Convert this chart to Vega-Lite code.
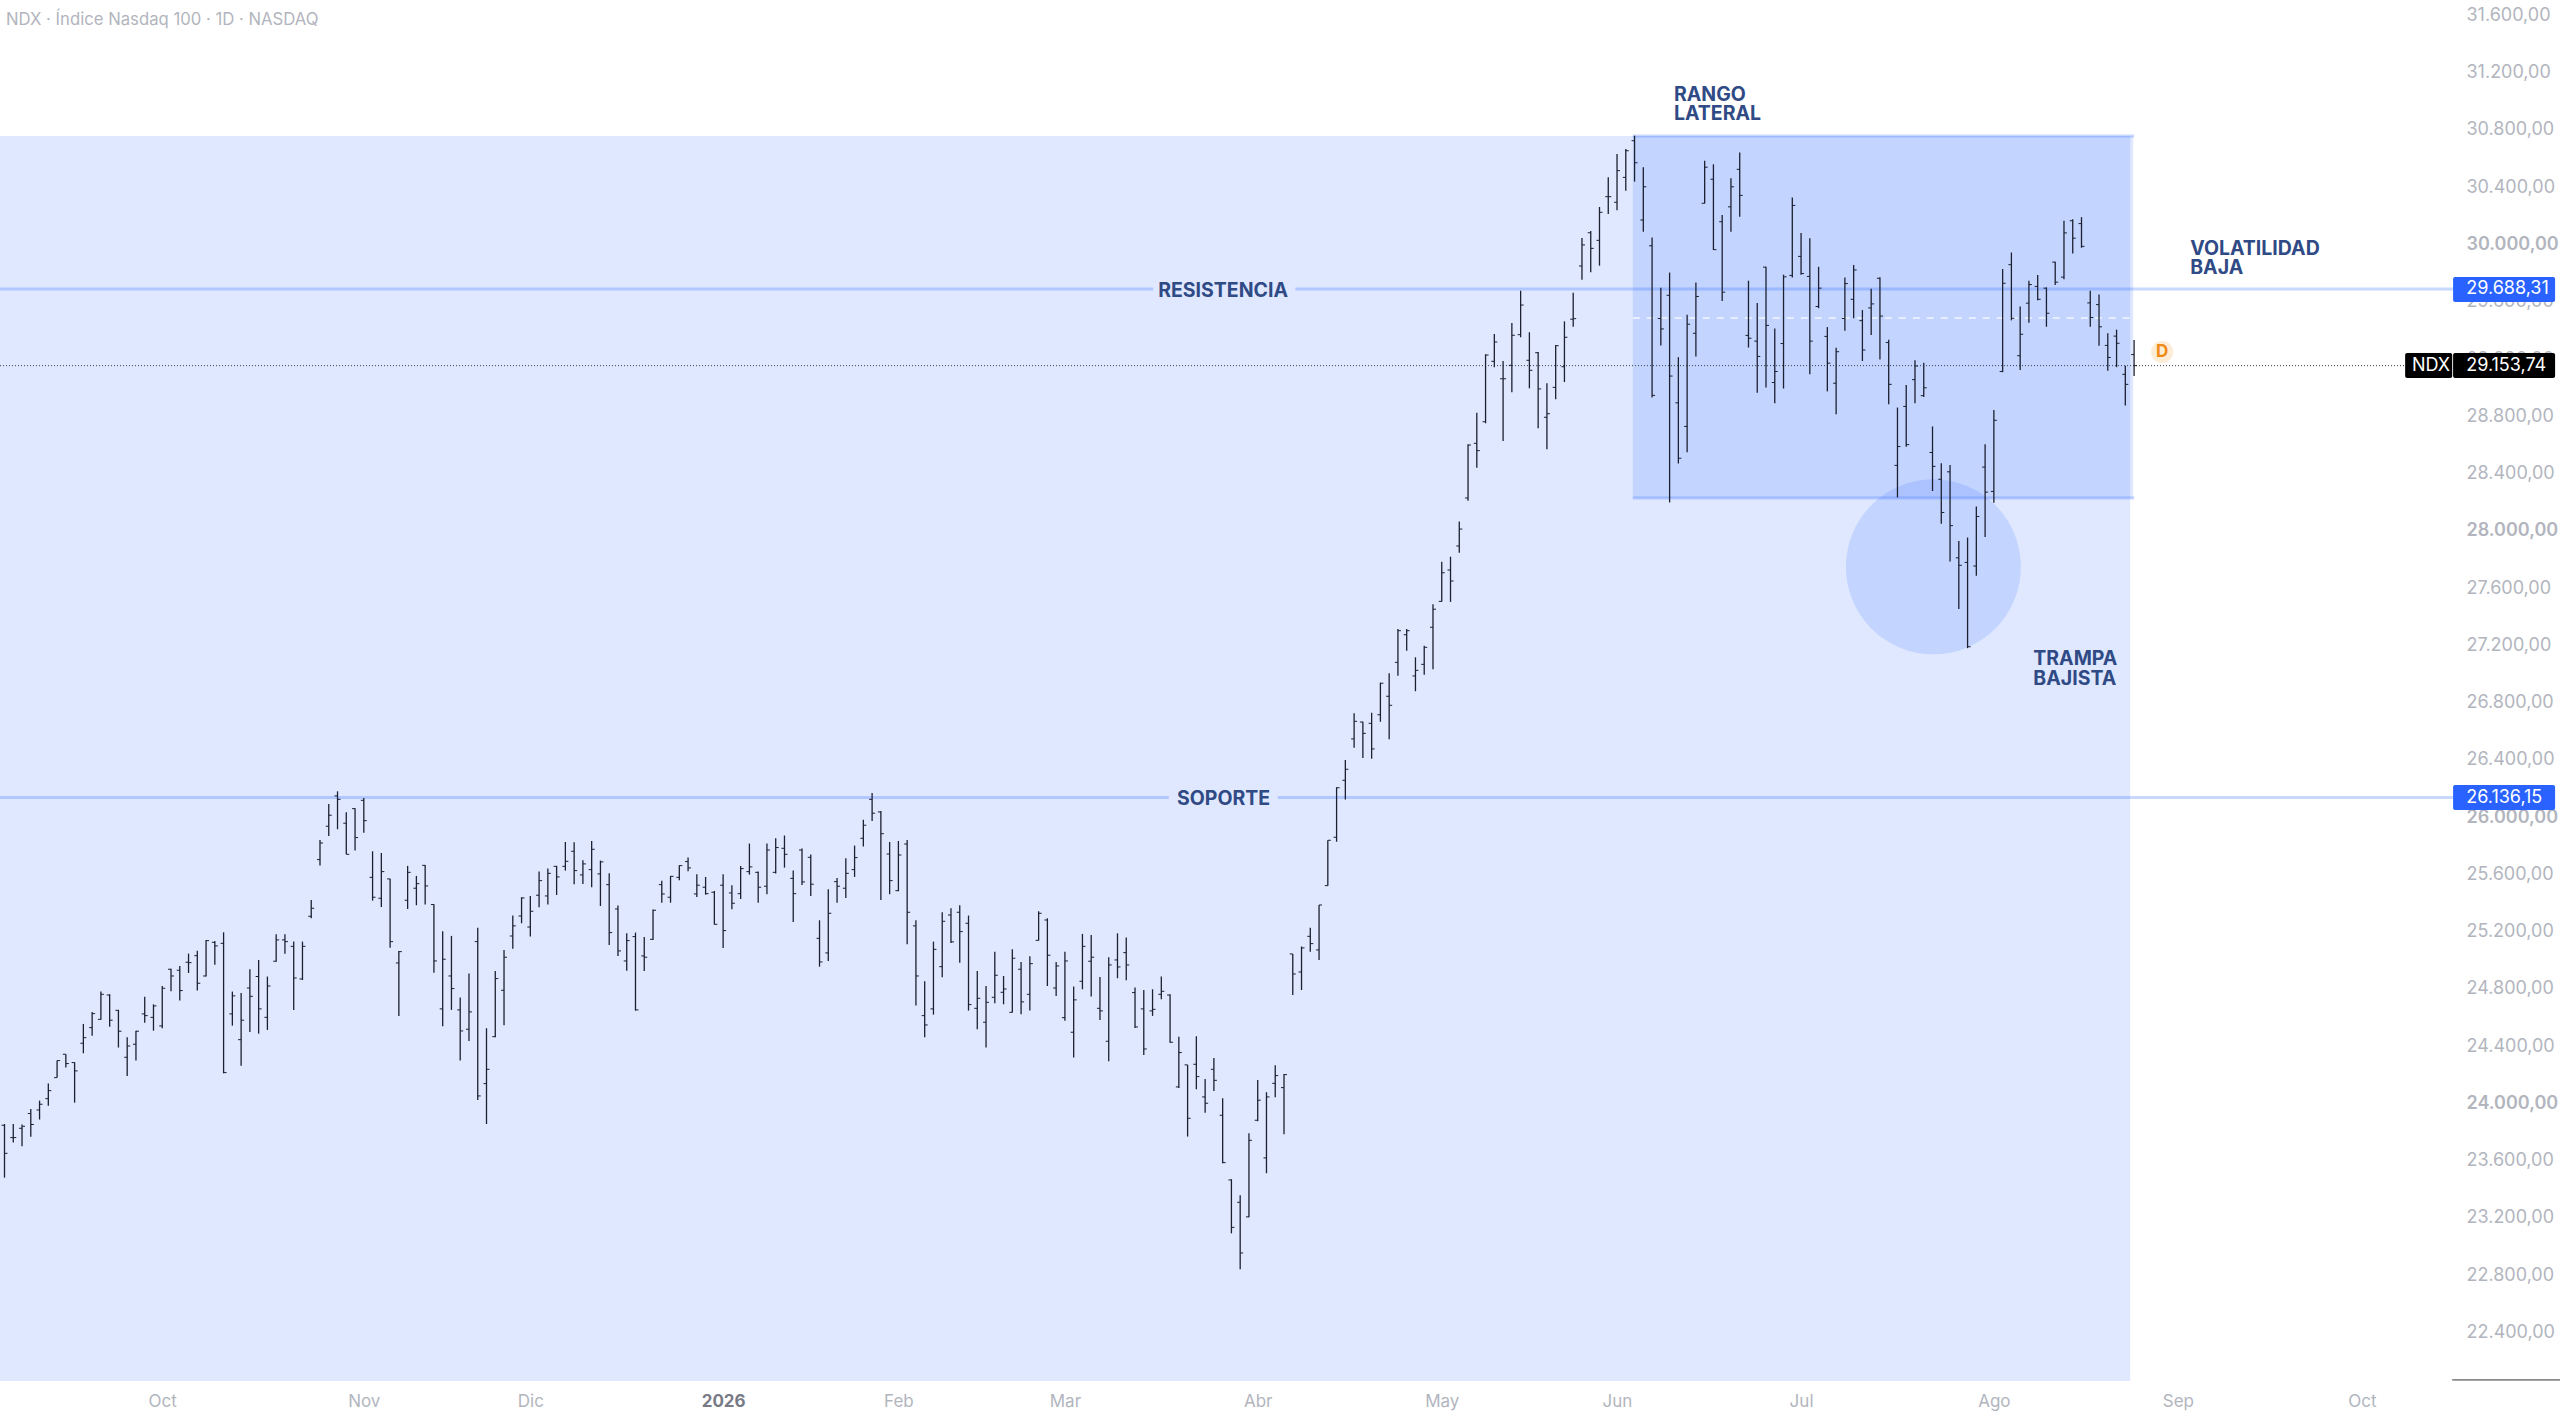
{
"$schema":"https://vega.github.io/schema/vega-lite/v6.json",
"width":2560,"height":1417,"autosize":{"type":"none"},"padding":0,"background":"#ffffff",
"config":{"view":{"stroke":null},"font":"Inter"},
"datasets":{
"bars":[
{"i":0,"h":23856,"l":23481,"o":23847,"c":23651},{"i":1,"h":23856,"l":23726,"o":23761,"c":23761},{"i":2,"h":23852,"l":23700,"o":23826,"c":23840},{"i":3,"h":23961,"l":23766,"o":23929,"c":23852},{"i":4,"h":24019,"l":23887,"o":23954,"c":23994},{"i":5,"h":24138,"l":23984,"o":24033,"c":24089},{"i":6,"h":24299,"l":24180,"o":24180,"c":24299},{"i":7,"h":24343,"l":24250,"o":24343,"c":24278},{"i":8,"h":24287,"l":24005,"o":24285,"c":24227},{"i":9,"h":24555,"l":24350,"o":24420,"c":24459},
{"i":10,"h":24639,"l":24473,"o":24529,"c":24627},{"i":11,"h":24781,"l":24585,"o":24587,"c":24762},{"i":12,"h":24762,"l":24536,"o":24757,"c":24581},{"i":13,"h":24653,"l":24390,"o":24650,"c":24504},{"i":14,"h":24462,"l":24192,"o":24322,"c":24401},{"i":15,"h":24508,"l":24299,"o":24413,"c":24504},{"i":16,"h":24744,"l":24564,"o":24625,"c":24613},{"i":17,"h":24692,"l":24508,"o":24601,"c":24681},{"i":18,"h":24820,"l":24525,"o":24541,"c":24804},{"i":19,"h":24941,"l":24783,"o":24937,"c":24890},
{"i":20,"h":24960,"l":24718,"o":24930,"c":24788},{"i":21,"h":25046,"l":24911,"o":24986,"c":24983},{"i":22,"h":25067,"l":24788,"o":25032,"c":24839},{"i":23,"h":25142,"l":24886,"o":24890,"c":25137},{"i":24,"h":25135,"l":24969,"o":25125,"c":25100},{"i":25,"h":25195,"l":24210,"o":25118,"c":24215},{"i":26,"h":24781,"l":24543,"o":24625,"c":24751},{"i":27,"h":24771,"l":24262,"o":24445,"c":24581},{"i":28,"h":24937,"l":24499,"o":24806,"c":24748},{"i":29,"h":25002,"l":24487,"o":24886,"c":24660},
{"i":30,"h":24886,"l":24513,"o":24601,"c":24820},{"i":31,"h":25181,"l":24990,"o":24993,"c":25142},{"i":32,"h":25181,"l":25046,"o":25142,"c":25130},{"i":33,"h":25130,"l":24653,"o":25097,"c":24876},{"i":34,"h":25130,"l":24862,"o":24869,"c":25097},{"i":35,"h":25421,"l":25293,"o":25307,"c":25363},{"i":36,"h":25840,"l":25661,"o":25703,"c":25819},{"i":37,"h":26092,"l":25868,"o":25936,"c":26013},{"i":38,"h":26180,"l":25915,"o":26148,"c":26124},{"i":39,"h":26034,"l":25740,"o":25957,"c":25740},
{"i":40,"h":26061,"l":25766,"o":26059,"c":25857},{"i":41,"h":26134,"l":25891,"o":26117,"c":25975},{"i":42,"h":25761,"l":25416,"o":25579,"c":25440},{"i":43,"h":25749,"l":25372,"o":25433,"c":25619},{"i":44,"h":25570,"l":25088,"o":25568,"c":25130},{"i":45,"h":25065,"l":24611,"o":24981,"c":25060},{"i":46,"h":25659,"l":25358,"o":25419,"c":25614},{"i":47,"h":25589,"l":25384,"o":25503,"c":25535},{"i":48,"h":25666,"l":25389,"o":25663,"c":25519},{"i":49,"h":25391,"l":24913,"o":25389,"c":24995},
{"i":50,"h":25202,"l":24539,"o":24660,"c":25007},{"i":51,"h":25170,"l":24653,"o":24890,"c":24802},{"i":52,"h":24739,"l":24299,"o":24653,"c":24506},{"i":53,"h":24907,"l":24436,"o":24518,"c":24639},{"i":54,"h":25226,"l":24024,"o":25130,"c":24052},{"i":55,"h":24525,"l":23856,"o":24138,"c":24238},{"i":56,"h":24925,"l":24462,"o":24466,"c":24872},{"i":57,"h":25072,"l":24546,"o":24790,"c":25021},{"i":58,"h":25312,"l":25081,"o":25170,"c":25240},{"i":59,"h":25440,"l":25258,"o":25309,"c":25435},
{"i":60,"h":25449,"l":25165,"o":25232,"c":25342},{"i":61,"h":25619,"l":25370,"o":25454,"c":25556},{"i":62,"h":25640,"l":25389,"o":25449,"c":25607},{"i":63,"h":25659,"l":25456,"o":25656,"c":25582},{"i":64,"h":25826,"l":25626,"o":25656,"c":25691},{"i":65,"h":25824,"l":25531,"o":25761,"c":25626},{"i":66,"h":25698,"l":25533,"o":25596,"c":25673},{"i":67,"h":25833,"l":25510,"o":25633,"c":25775},{"i":68,"h":25696,"l":25379,"o":25603,"c":25687},{"i":69,"h":25607,"l":25107,"o":25528,"c":25193},
{"i":70,"h":25382,"l":25030,"o":25358,"c":25065},{"i":71,"h":25188,"l":24927,"o":24995,"c":25137},{"i":72,"h":25193,"l":24648,"o":25165,"c":24653},{"i":73,"h":25163,"l":24925,"o":25030,"c":25021},{"i":74,"h":25354,"l":25142,"o":25146,"c":25349},{"i":75,"h":25556,"l":25402,"o":25528,"c":25463},{"i":76,"h":25589,"l":25402,"o":25440,"c":25586},{"i":77,"h":25663,"l":25559,"o":25579,"c":25661},{"i":78,"h":25717,"l":25621,"o":25689,"c":25645},{"i":79,"h":25600,"l":25442,"o":25463,"c":25524},
{"i":80,"h":25582,"l":25458,"o":25510,"c":25465},{"i":81,"h":25484,"l":25249,"o":25475,"c":25251},{"i":82,"h":25600,"l":25086,"o":25524,"c":25207},{"i":83,"h":25524,"l":25356,"o":25470,"c":25398},{"i":84,"h":25659,"l":25428,"o":25465,"c":25640},{"i":85,"h":25815,"l":25598,"o":25619,"c":25652},{"i":86,"h":25619,"l":25402,"o":25614,"c":25510},{"i":87,"h":25815,"l":25461,"o":25517,"c":25770},{"i":88,"h":25852,"l":25605,"o":25614,"c":25787},{"i":89,"h":25871,"l":25647,"o":25782,"c":25740},
{"i":90,"h":25626,"l":25267,"o":25572,"c":25465},{"i":91,"h":25780,"l":25526,"o":25770,"c":25547},{"i":92,"h":25738,"l":25449,"o":25719,"c":25531},{"i":93,"h":25279,"l":24955,"o":25153,"c":24988},{"i":94,"h":25496,"l":24995,"o":25051,"c":25328},{"i":95,"h":25575,"l":25402,"o":25549,"c":25517},{"i":96,"h":25712,"l":25435,"o":25503,"c":25607},{"i":97,"h":25801,"l":25582,"o":25633,"c":25717},{"i":98,"h":25982,"l":25794,"o":25852,"c":25943},{"i":99,"h":26169,"l":25973,"o":26124,"c":26027},
{"i":100,"h":26043,"l":25421,"o":26036,"c":25884},{"i":101,"h":25826,"l":25461,"o":25742,"c":25556},{"i":102,"h":25833,"l":25482,"o":25486,"c":25735},{"i":103,"h":25840,"l":25111,"o":25812,"c":25335},{"i":104,"h":25279,"l":24683,"o":25240,"c":24890},{"i":105,"h":24853,"l":24462,"o":24613,"c":24548},{"i":106,"h":25130,"l":24620,"o":24660,"c":25076},{"i":107,"h":25335,"l":24881,"o":24955,"c":25272},{"i":108,"h":25363,"l":25121,"o":25316,"c":25128},{"i":109,"h":25384,"l":24983,"o":25335,"c":25200},
{"i":110,"h":25312,"l":24648,"o":25258,"c":24690},{"i":111,"h":24925,"l":24518,"o":24664,"c":24734},{"i":112,"h":24820,"l":24390,"o":24567,"c":24706},{"i":113,"h":25060,"l":24699,"o":24741,"c":24895},{"i":114,"h":24890,"l":24692,"o":24776,"c":24799},{"i":115,"h":25076,"l":24634,"o":24636,"c":25014},{"i":116,"h":24988,"l":24622,"o":24937,"c":24709},{"i":117,"h":25028,"l":24648,"o":24762,"c":24976},{"i":118,"h":25342,"l":25137,"o":25139,"c":25328},{"i":119,"h":25293,"l":24820,"o":25281,"c":25035},
{"i":120,"h":24988,"l":24750,"o":24806,"c":24960},{"i":121,"h":25060,"l":24578,"o":24599,"c":24995},{"i":122,"h":24816,"l":24320,"o":24497,"c":24723},{"i":123,"h":25184,"l":24797,"o":24853,"c":25097},{"i":124,"h":25177,"l":24746,"o":24993,"c":25021},{"i":125,"h":24883,"l":24583,"o":24664,"c":24646},{"i":126,"h":25021,"l":24294,"o":24434,"c":24967},{"i":127,"h":25188,"l":24874,"o":25002,"c":24953},{"i":128,"h":25158,"l":24860,"o":25053,"c":24967},{"i":129,"h":24809,"l":24527,"o":24774,"c":24534},
{"i":130,"h":24792,"l":24338,"o":24660,"c":24380},{"i":131,"h":24797,"l":24611,"o":24646,"c":24657},{"i":132,"h":24886,"l":24727,"o":24762,"c":24783},{"i":133,"h":24762,"l":24424,"o":24757,"c":24427},{"i":134,"h":24466,"l":24108,"o":24115,"c":24355},{"i":135,"h":24269,"l":23768,"o":24269,"c":23896},{"i":136,"h":24469,"l":24098,"o":24273,"c":24187},{"i":137,"h":24171,"l":23935,"o":24045,"c":24001},{"i":138,"h":24317,"l":24087,"o":24238,"c":24161},{"i":139,"h":24036,"l":23582,"o":23917,"c":23586},
{"i":140,"h":23470,"l":23092,"o":23465,"c":23134},{"i":141,"h":23358,"l":22841,"o":23309,"c":22955},{"i":142,"h":23791,"l":23204,"o":23207,"c":23742},{"i":143,"h":24164,"l":23875,"o":23882,"c":24022},{"i":144,"h":24078,"l":23512,"o":23619,"c":24045},{"i":145,"h":24266,"l":24043,"o":24140,"c":24194},{"i":146,"h":24206,"l":23784,"o":24110,"c":24201},{"i":147,"h":25044,"l":24757,"o":25044,"c":24904},{"i":148,"h":25096,"l":24792,"o":24918,"c":25086},{"i":149,"h":25227,"l":25060,"o":25167,"c":25116},
{"i":150,"h":25386,"l":25002,"o":25072,"c":25386},{"i":151,"h":25838,"l":25521,"o":25521,"c":25838},{"i":152,"h":26208,"l":25828,"o":25859,"c":26205},{"i":153,"h":26399,"l":26122,"o":26257,"c":26334},{"i":154,"h":26725,"l":26485,"o":26546,"c":26669},{"i":155,"h":26666,"l":26413,"o":26664,"c":26585},{"i":156,"h":26729,"l":26408,"o":26655,"c":26476},{"i":157,"h":26939,"l":26666,"o":26715,"c":26935},{"i":158,"h":27005,"l":26543,"o":26844,"c":26781},{"i":159,"h":27314,"l":26988,"o":27081,"c":27302},
{"i":160,"h":27314,"l":27162,"o":27274,"c":27302},{"i":161,"h":27116,"l":26879,"o":26986,"c":27025},{"i":162,"h":27197,"l":26995,"o":27067,"c":27186},{"i":163,"h":27486,"l":27032,"o":27326,"c":27452},{"i":164,"h":27784,"l":27505,"o":27507,"c":27707},{"i":165,"h":27819,"l":27503,"o":27726,"c":27649},{"i":166,"h":28064,"l":27847,"o":27894,"c":28012},{"i":167,"h":28604,"l":28210,"o":28229,"c":28599},{"i":168,"h":28825,"l":28441,"o":28611,"c":28560},{"i":169,"h":29233,"l":28751,"o":28762,"c":29228},
{"i":170,"h":29375,"l":29142,"o":29184,"c":29319},{"i":171,"h":29186,"l":28627,"o":29062,"c":29062},{"i":172,"h":29452,"l":28968,"o":29156,"c":29366},{"i":173,"h":29677,"l":29352,"o":29370,"c":29577},{"i":174,"h":29387,"l":28995,"o":29191,"c":29121},{"i":175,"h":29249,"l":28716,"o":29244,"c":28991},{"i":176,"h":29030,"l":28569,"o":28793,"c":28818},{"i":177,"h":29298,"l":28919,"o":29002,"c":29293},{"i":178,"h":29463,"l":29039,"o":29146,"c":29352},{"i":179,"h":29663,"l":29426,"o":29478,"c":29482},
{"i":180,"h":30045,"l":29754,"o":29850,"c":29997},{"i":181,"h":30094,"l":29806,"o":30082,"c":29973},{"i":182,"h":30262,"l":29852,"o":30029,"c":30225},{"i":183,"h":30469,"l":30213,"o":30334,"c":30334},{"i":184,"h":30632,"l":30239,"o":30295,"c":30516},{"i":185,"h":30667,"l":30376,"o":30469,"c":30655},{"i":186,"h":30760,"l":30439,"o":30725,"c":30571},{"i":187,"h":30540,"l":30089,"o":30171,"c":30403},{"i":188,"h":30049,"l":28931,"o":29991,"c":28946},{"i":189,"h":29697,"l":29295,"o":29483,"c":29410},
{"i":190,"h":29804,"l":28198,"o":29645,"c":29081},{"i":191,"h":29213,"l":28470,"o":28894,"c":28507},{"i":192,"h":29510,"l":28549,"o":28729,"c":29443},{"i":193,"h":29734,"l":29218,"o":29380,"c":29637},{"i":194,"h":30585,"l":30286,"o":30288,"c":30540},{"i":195,"h":30560,"l":29962,"o":30456,"c":29964},{"i":196,"h":30206,"l":29605,"o":30159,"c":29667},{"i":197,"h":30463,"l":30089,"o":30263,"c":30403},{"i":198,"h":30643,"l":30194,"o":30525,"c":30343},{"i":199,"h":29747,"l":29280,"o":29365,"c":29345},
{"i":200,"h":29592,"l":28964,"o":29325,"c":29218},{"i":201,"h":29844,"l":29001,"o":29842,"c":29435},{"i":202,"h":29413,"l":28891,"o":29036,"c":29113},{"i":203,"h":29789,"l":28994,"o":29308,"c":29774},{"i":204,"h":30328,"l":29769,"o":29784,"c":30273},{"i":205,"h":30081,"l":29789,"o":29917,"c":29797},{"i":206,"h":30044,"l":29093,"o":29777,"c":29325},{"i":207,"h":29844,"l":29555,"o":29567,"c":29695},{"i":208,"h":29423,"l":28974,"o":29358,"c":29171},{"i":209,"h":29278,"l":28814,"o":29031,"c":29251},
{"i":210,"h":29769,"l":29398,"o":29483,"c":29727},{"i":211,"h":29857,"l":29485,"o":29617,"c":29822},{"i":212,"h":29542,"l":29186,"o":29468,"c":29263},{"i":213,"h":29690,"l":29368,"o":29557,"c":29585},{"i":214,"h":29772,"l":29196,"o":29764,"c":29500},{"i":215,"h":29335,"l":28884,"o":29315,"c":29023},{"i":216,"h":28861,"l":28233,"o":28457,"c":28589},{"i":217,"h":29019,"l":28587,"o":28869,"c":28602},{"i":218,"h":29191,"l":28891,"o":29056,"c":29151},{"i":219,"h":29173,"l":28934,"o":28944,"c":28999},
{"i":220,"h":28729,"l":28278,"o":28547,"c":28450},{"i":221,"h":28472,"l":28050,"o":28360,"c":28128},{"i":222,"h":28460,"l":27786,"o":28412,"c":28036},{"i":223,"h":27928,"l":27454,"o":27811,"c":27759},{"i":224,"h":27953,"l":27180,"o":27779,"c":27190},{"i":225,"h":28170,"l":27686,"o":27754,"c":28100},{"i":226,"h":28604,"l":27956,"o":28445,"c":28270},{"i":227,"h":28844,"l":28195,"o":28275,"c":28772},{"i":228,"h":29829,"l":29108,"o":29113,"c":29729},{"i":229,"h":29944,"l":29470,"o":29859,"c":29485},
{"i":230,"h":29567,"l":29123,"o":29223,"c":29373},{"i":231,"h":29747,"l":29453,"o":29590,"c":29720},{"i":232,"h":29787,"l":29610,"o":29707,"c":29617},{"i":233,"h":29700,"l":29425,"o":29695,"c":29520},{"i":234,"h":29879,"l":29717,"o":29877,"c":29737},{"i":235,"h":30166,"l":29757,"o":29772,"c":30081},{"i":236,"h":30176,"l":29937,"o":30166,"c":30044},{"i":237,"h":30191,"l":29977,"o":30146,"c":29987},{"i":238,"h":29677,"l":29425,"o":29592,"c":29490},{"i":239,"h":29650,"l":29293,"o":29580,"c":29425},
{"i":240,"h":29380,"l":29118,"o":29295,"c":29211},{"i":241,"h":29405,"l":29143,"o":29360,"c":29310},{"i":242,"h":29153,"l":28876,"o":29093,"c":29023},{"i":243,"h":29333,"l":29081,"o":29231,"c":29153.74}
],
"lines":[
{"i":-0.5135,"i2":131.06,"p":29688.31},{"i":147.3,"i2":279.4,"p":29688.31},
{"i":-0.5135,"i2":132.85,"p":26136.15},{"i":145.3,"i2":279.4,"p":26136.15},
{"i":185.8,"i2":243.0,"p":30758},{"i":185.8,"i2":243.0,"p":28229}
],
"labels":[
{"i":190.5,"p":31051,"t":"RANGO"},{"i":190.5,"p":30919,"t":"LATERAL"},
{"i":249.4,"p":29976,"t":"VOLATILIDAD"},{"i":249.4,"p":29843,"t":"BAJA"},
{"i":231.5,"p":27111,"t":"TRAMPA"},{"i":231.5,"p":26972,"t":"BAJISTA"}
],
"tags":[
{"i":279.4,"i2":291.04,"p":29773,"p2":29598,"col":"#2962ff"},
{"i":279.4,"i2":291.04,"p":26224,"p2":26050,"col":"#2962ff"},
{"i":279.4,"i2":291.04,"p":29242,"p2":29067,"col":"#000000"},
{"i":273.93,"i2":279.3,"p":29242,"p2":29067,"col":"#000000"}
],
"tagtext":[
{"i":280.9,"p":29688.31,"t":"29.688,31"},{"i":280.9,"p":26136.15,"t":"26.136,15"},{"i":280.9,"p":29153.74,"t":"29.153,74"},{"i":274.7,"p":29153.74,"t":"NDX"}
]
},
"layer":[
{"data":{"values":[{"i":-0.5135,"i2":242.56,"p":30758,"p2":22061}]},
 "mark":{"type":"rect","fill":"#2962ff","opacity":0.15},
 "encoding":{
  "x":{"field":"i","type":"quantitative","scale":{"domain":[-0.5135,291.6],"nice":false,"zero":false},
   "axis":{"orient":"bottom","title":null,"domain":false,"ticks":false,"tickSize":0,"grid":false,"labelPadding":-16,"labelBaseline":"middle","labelAlign":"center","labelFont":"Inter","labelFontSize":17,"labelOverlap":false,"labelFlush":false,"labelBound":false,
    "values":[18,41,60,82,102,121,143,164,184,205,227,248,269],
    "labelExpr":"['Oct','Nov','Dic','2026','Feb','Mar','Abr','May','Jun','Jul','Ago','Sep','Oct'][indexof([18,41,60,82,102,121,143,164,184,205,227,248,269],datum.value)]",
    "labelColor":{"condition":{"test":"datum.value==82","value":"#787b86"},"value":"#b2b5be"},
    "labelFontWeight":{"condition":{"test":"datum.value==82","value":"bold"},"value":"normal"}}},
  "x2":{"field":"i2"},
  "y":{"field":"p","type":"quantitative","scale":{"domain":[21809,31708],"nice":false,"zero":false},
   "axis":{"orient":"right","title":null,"domain":false,"ticks":false,"tickSize":0,"grid":false,"labelPadding":-94,"labelAlign":"left","labelBaseline":"middle","labelFont":"Inter","labelFontSize":18,"labelColor":"#b2b5be","labelOverlap":false,"labelFlush":false,"labelBound":false,
    "values":[22400,22800,23200,23600,24000,24400,24800,25200,25600,26000,26400,26800,27200,27600,28000,28400,28800,29200,29600,30000,30400,30800,31200,31600],
    "labelExpr":"replace(replace(replace(format(datum.value,',.2f'),',','X'),'.',','),'X','.')",
    "labelFontWeight":{"condition":{"test":"datum.value%2000==0","value":600},"value":400}}},
  "y2":{"field":"p2"}}},
{"data":{"values":[{"i":185.8,"i2":242.9,"p":30758,"p2":28229}]},
 "mark":{"type":"rect","fill":"#2962ff","opacity":0.15},
 "encoding":{"x":{"field":"i","type":"quantitative"},"x2":{"field":"i2"},"y":{"field":"p","type":"quantitative"},"y2":{"field":"p2"}}},
{"data":{"values":[{"i":220.1,"p":27748}]},
 "mark":{"type":"point","shape":"circle","filled":true,"fill":"#2962ff","opacity":0.15,"size":30625},
 "encoding":{"x":{"field":"i","type":"quantitative"},"y":{"field":"p","type":"quantitative"}}},
{"data":{"name":"lines"},
 "mark":{"type":"rule","stroke":"#2962ff","opacity":0.25,"strokeWidth":3},
 "encoding":{"x":{"field":"i","type":"quantitative"},"x2":{"field":"i2"},"y":{"field":"p","type":"quantitative"}}},
{"data":{"values":[{"i":185.8,"i2":243.0,"p":29487}]},
 "mark":{"type":"rule","stroke":"#ffffff","opacity":0.6,"strokeWidth":2,"strokeDash":[7,7]},
 "encoding":{"x":{"field":"i","type":"quantitative"},"x2":{"field":"i2"},"y":{"field":"p","type":"quantitative"}}},
{"data":{"values":[{"i":-0.5135,"i2":273.9,"p":29153.74}]},
 "mark":{"type":"rule","stroke":"#3a3f4b","strokeWidth":1,"strokeDash":[1,2]},
 "encoding":{"x":{"field":"i","type":"quantitative"},"x2":{"field":"i2"},"y":{"field":"p","type":"quantitative"}}},
{"data":{"values":[{"i":279.3,"i2":291.6,"p":22068}]},
 "mark":{"type":"rule","stroke":"#333333","strokeWidth":1},
 "encoding":{"x":{"field":"i","type":"quantitative"},"x2":{"field":"i2"},"y":{"field":"p","type":"quantitative"}}},
{"data":{"name":"bars"},
 "mark":{"type":"rule","stroke":"#1c2030","strokeWidth":1.3},
 "encoding":{"x":{"field":"i","type":"quantitative"},"y":{"field":"l","type":"quantitative"},"y2":{"field":"h"}}},
{"data":{"name":"bars"},
 "mark":{"type":"tick","orient":"horizontal","color":"#1c2030","size":3,"thickness":1,"xOffset":-1.5,"opacity":1},
 "encoding":{"x":{"field":"i","type":"quantitative"},"y":{"field":"o","type":"quantitative"}}},
{"data":{"name":"bars"},
 "mark":{"type":"tick","orient":"horizontal","color":"#1c2030","size":3,"thickness":1,"xOffset":1.5,"opacity":1},
 "encoding":{"x":{"field":"i","type":"quantitative"},"y":{"field":"c","type":"quantitative"}}},
{"data":{"values":[{"i":139.05,"p":29688.31,"t":"RESISTENCIA"},{"i":139.1,"p":26136.15,"t":"SOPORTE"}]},
 "mark":{"type":"text","font":"Inter","fontWeight":"bold","fontSize":19.5,"color":"#2f4a85","align":"center","baseline":"middle","dy":1.5},
 "encoding":{"x":{"field":"i","type":"quantitative"},"y":{"field":"p","type":"quantitative"},"text":{"field":"t"}}},
{"data":{"name":"labels"},
 "mark":{"type":"text","font":"Inter","fontWeight":"bold","fontSize":19.5,"color":"#2f4a85","align":"left","baseline":"middle","dy":1},
 "encoding":{"x":{"field":"i","type":"quantitative"},"y":{"field":"p","type":"quantitative"},"text":{"field":"t"}}},
{"data":{"name":"tags"},
 "mark":{"type":"rect","cornerRadius":2},
 "encoding":{"x":{"field":"i","type":"quantitative"},"x2":{"field":"i2"},"y":{"field":"p","type":"quantitative"},"y2":{"field":"p2"},"color":{"field":"col","type":"nominal","scale":null,"legend":null}}},
{"data":{"name":"tagtext"},
 "mark":{"type":"text","font":"Inter","fontSize":18,"color":"#ffffff","align":"left","baseline":"middle"},
 "encoding":{"x":{"field":"i","type":"quantitative"},"y":{"field":"p","type":"quantitative"},"text":{"field":"t"}}},
{"data":{"values":[{"i":246.2,"p":29249}]},
 "mark":{"type":"point","shape":"circle","filled":true,"fill":"#fdecd6","opacity":1,"size":484},
 "encoding":{"x":{"field":"i","type":"quantitative"},"y":{"field":"p","type":"quantitative"}}},
{"data":{"values":[{"i":246.2,"p":29249,"t":"D"}]},
 "mark":{"type":"text","font":"Inter","fontWeight":"bold","fontSize":17,"color":"#ef8a17","align":"center","baseline":"middle"},
 "encoding":{"x":{"field":"i","type":"quantitative"},"y":{"field":"p","type":"quantitative"},"text":{"field":"t"}}},
{"data":{"values":[{"i":0.17,"p":31565,"t":"NDX · Índice Nasdaq 100 · 1D · NASDAQ"}]},
 "mark":{"type":"text","font":"Inter","fontSize":16.7,"color":"#b2b5be","align":"left","baseline":"middle"},
 "encoding":{"x":{"field":"i","type":"quantitative"},"y":{"field":"p","type":"quantitative"},"text":{"field":"t"}}}
]
}
